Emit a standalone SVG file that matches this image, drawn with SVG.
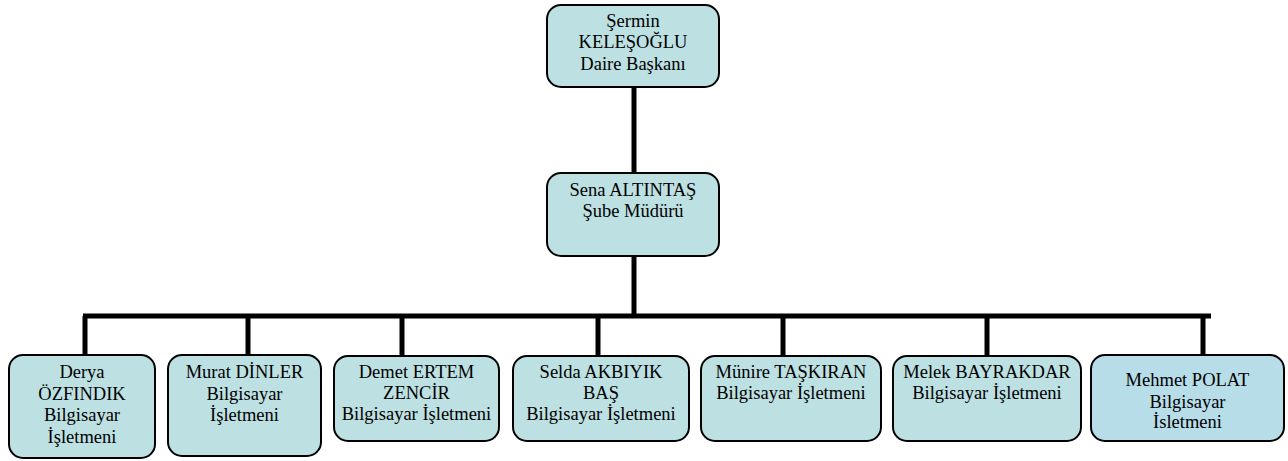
<svg xmlns="http://www.w3.org/2000/svg" width="1288" height="461" viewBox="0 0 1288 461">
<style>
.box{fill:#bde0e3;stroke:#000;stroke-width:2}
.box2{fill:#b7dde8;stroke:#000;stroke-width:2}
.t{font-family:'Liberation Serif','Times New Roman','DejaVu Serif',serif;font-size:18.5px;fill:#000;text-anchor:middle}
.ln{stroke:#000;stroke-width:5;fill:none}
</style>
<defs>
<clipPath id="clipM"><rect x="1091" y="355" width="193" height="73"/></clipPath>
</defs>
<rect width="1288" height="461" fill="#fff"/>
<g id="connectors">
<line class="ln" x1="634" y1="87" x2="634" y2="173"/>
<line class="ln" x1="634" y1="256" x2="634" y2="316"/>
<line class="ln" x1="83" y1="316" x2="1211" y2="316"/>
<line class="ln" x1="85" y1="316" x2="85" y2="355"/>
<line class="ln" x1="248" y1="316" x2="248" y2="355"/>
<line class="ln" x1="402" y1="316" x2="402" y2="356"/>
<line class="ln" x1="598" y1="316" x2="598" y2="356"/>
<line class="ln" x1="783" y1="316" x2="783" y2="356"/>
<line class="ln" x1="987" y1="316" x2="987" y2="356"/>
<line class="ln" x1="1203" y1="316" x2="1203" y2="355"/>
</g>
<g id="n-kelesoglu">
<rect class="box" x="547" y="5" width="172" height="82" rx="14"/>
<text class="t" x="633" y="26.5">Şermin</text>
<text class="t" x="633" y="48">KELEŞOĞLU</text>
<text class="t" x="633" y="69.5">Daire Başkanı</text>
</g>
<g id="n-altintas">
<rect class="box" x="547" y="173" width="172" height="83" rx="14"/>
<text class="t" x="633" y="195.5">Sena ALTINTAŞ</text>
<text class="t" x="633" y="217">Şube Müdürü</text>
</g>
<g id="n-ozfindik">
<rect class="box" x="9" y="355" width="146" height="103" rx="14"/>
<text class="t" x="82" y="378">Derya</text>
<text class="t" x="82" y="399.5">ÖZFINDIK</text>
<text class="t" x="82" y="421">Bilgisayar</text>
<text class="t" x="82" y="442.5">İşletmeni</text>
</g>
<g id="n-dinler">
<rect class="box" x="168" y="355" width="153" height="101" rx="14"/>
<text class="t" x="244.5" y="378">Murat DİNLER</text>
<text class="t" x="244.5" y="399.5">Bilgisayar</text>
<text class="t" x="244.5" y="421">İşletmeni</text>
</g>
<g id="n-zencir">
<rect class="box" x="334" y="356" width="165" height="85" rx="14"/>
<text class="t" x="416.5" y="378">Demet ERTEM</text>
<text class="t" x="416.5" y="399">ZENCİR</text>
<text class="t" x="416.5" y="420">Bilgisayar İşletmeni</text>
</g>
<g id="n-akbiyik">
<rect class="box" x="513" y="356" width="176" height="85" rx="14"/>
<text class="t" x="601" y="378">Selda AKBIYIK</text>
<text class="t" x="601" y="399">BAŞ</text>
<text class="t" x="601" y="420">Bilgisayar İşletmeni</text>
</g>
<g id="n-taskiran">
<rect class="box" x="701" y="356" width="180" height="85" rx="14"/>
<text class="t" x="791" y="378">Münire TAŞKIRAN</text>
<text class="t" x="791" y="399">Bilgisayar İşletmeni</text>
</g>
<g id="n-bayrakdar">
<rect class="box" x="893" y="356" width="188" height="85" rx="14"/>
<text class="t" x="987" y="378">Melek BAYRAKDAR</text>
<text class="t" x="987" y="399">Bilgisayar İşletmeni</text>
</g>
<g id="n-polat">
<rect class="box2" x="1091" y="355" width="193" height="86" rx="14"/>
<text class="t" x="1187.5" y="386">Mehmet POLAT</text>
<text class="t" x="1187.5" y="407.5">Bilgisayar</text>
<text class="t" x="1187.5" y="428" clip-path="url(#clipM)">İşletmeni</text>
</g>
</svg>
